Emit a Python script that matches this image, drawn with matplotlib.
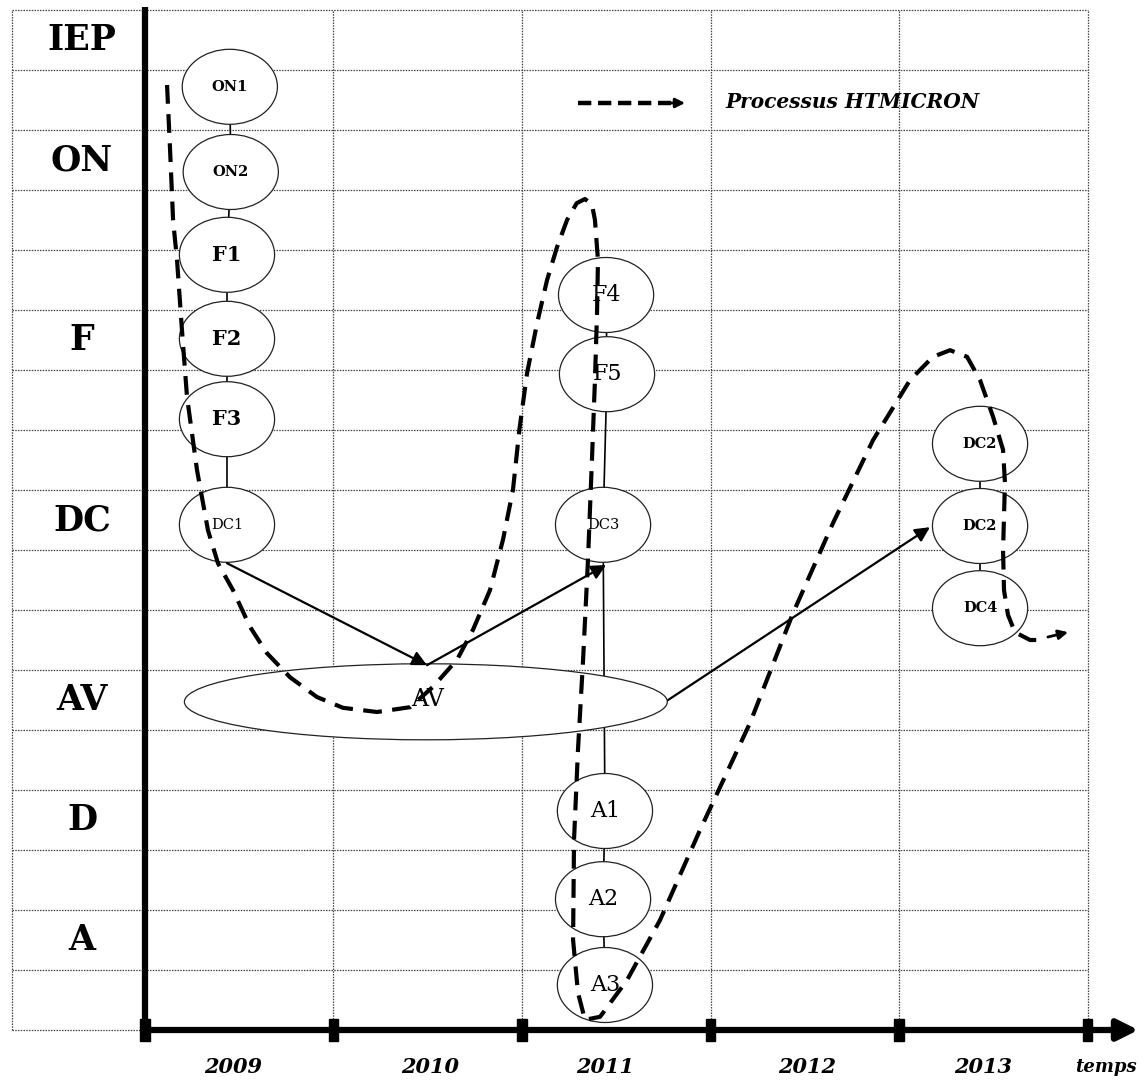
# coding:utf-8
import numpy as np
import matplotlib.pyplot as plt
from matplotlib.patches import Ellipse, Rectangle

plt.rcParams['font.family'] = ['DejaVu Serif']

# niveaux (lignes) a gauche
levels = ['IEP', 'ON', 'F', 'DC', 'AV', 'D', 'A']
level_pos = [16.5, 14.5, 11.5, 8.5, 5.5, 3.5, 1.5]

# annees sous l'axe du temps
years = ['2009', '2010', '2011', '2012', '2013']
year_pos = [2008.97, 2010.01, 2010.94, 2012.01, 2012.945]

# activites (ellipses)
act_names = ['ON1', 'ON2', 'F1', 'F2', 'F3', 'DC1',
             'F4', 'F5', 'DC3', 'A1', 'A2', 'A3',
             'DC2', 'DC2', 'DC4']
act_x = [2008.95, 2008.955, 2008.935, 2008.935, 2008.935, 2008.935,
         2010.946, 2010.951, 2010.93, 2010.94, 2010.93, 2010.94,
         2012.93, 2012.93, 2012.93]
act_y = [15.72, 14.30, 12.92, 11.52, 10.18, 8.42,
         12.25, 10.93, 8.42, 3.65, 2.18, 0.75,
         9.77, 8.40, 7.03]
chains = [[0, 1, 2, 3, 4, 5], [6, 7, 8, 9, 10, 11], [12, 13, 14]]

# grande ellipse AV
av_x, av_y = 2009.99, 5.47

# fleches pleines
flow_x0 = [2008.935, 2009.996, 2011.275]
flow_y0 = [7.78, 6.08, 5.50]
flow_x1 = [2009.996, 2010.946, 2012.664]
flow_y1 = [6.08, 7.75, 8.38]

# processus HTMICRON (trace en tirets)
proc_x = [2008.617, 2008.633, 2008.649, 2008.670, 2008.696, 2008.723, 2008.776,
          2008.834, 2008.887, 2008.967, 2009.057, 2009.147, 2009.269, 2009.412,
          2009.550, 2009.731, 2009.906, 2010.028, 2010.155, 2010.240, 2010.330,
          2010.399, 2010.452, 2010.486, 2010.527, 2010.580, 2010.633, 2010.686,
          2010.739, 2010.790, 2010.834, 2010.871, 2010.887, 2010.903, 2010.898,
          2010.887, 2010.871, 2010.850, 2010.824, 2010.797, 2010.776, 2010.771,
          2010.797, 2010.834, 2010.914, 2011.057, 2011.232, 2011.444, 2011.710,
          2011.938, 2012.150, 2012.362, 2012.558, 2012.680, 2012.771, 2012.861,
          2012.930, 2012.999, 2013.052, 2013.062, 2013.052, 2013.057, 2013.078,
          2013.115, 2013.195, 2013.248]
proc_y = [15.75, 14.67, 13.50, 12.83, 11.67, 10.55, 9.33,
          8.33, 7.78, 7.33, 6.72, 6.28, 5.88, 5.55,
          5.37, 5.30, 5.38, 5.72, 6.17, 6.67, 7.33,
          8.17, 9.00, 10.00, 10.95, 11.78, 12.50, 13.05,
          13.50, 13.78, 13.85, 13.76, 13.50, 12.83, 11.95,
          10.83, 9.50, 7.83, 6.17, 4.67, 3.17, 1.50,
          0.62, 0.17, 0.22, 0.83, 1.83, 3.33, 5.12,
          6.95, 8.45, 9.83, 10.83, 11.22, 11.33, 11.22,
          10.83, 10.22, 9.67, 9.12, 8.00, 7.33, 6.92,
          6.63, 6.50, 6.50]

bold_names = ['ON1', 'ON2', 'F1', 'F2', 'F3', 'DC2', 'DC4']

fig = plt.figure(figsize=(11.46, 10.82), dpi=100)
ax = fig.add_axes([0, 0, 1, 1])
ax.set_xlim(2007.7308, 2013.8103)
ax.set_ylim(-0.8667, 17.1667)
ax.axis('off')

x_left = 2007.794
x_right = 2013.5
dot = (0, (1.2, 1.0))

# grille pointillee
for y in range(18):
    ax.plot([x_left, x_right], [y, y], color='#444444', lw=0.9, ls=dot, zorder=0)
for x in [x_left, 2009.5, 2010.5, 2011.5, 2012.5, 2013.5]:
    ax.plot([x, x], [0, 17], color='#444444', lw=0.9, ls=dot, zorder=0)

# axes
ax.plot([2008.5, 2008.5], [0, 17.05], color='k', lw=4.5, solid_capstyle='butt', zorder=7)
ax.annotate('', xy=(2013.77, 0), xytext=(2008.5, 0),
            arrowprops=dict(arrowstyle='-|>,head_length=0.9,head_width=0.45',
                            lw=4.5, color='k', mutation_scale=14,
                            shrinkA=0, shrinkB=0), zorder=7)
for x in np.arange(2008.5, 2014.0, 1.0):
    ax.add_patch(Rectangle((x - 0.024, -0.18), 0.048, 0.36, color='k', zorder=8))

# etiquettes des niveaux
for lab, y in zip(levels, level_pos):
    ax.text(2008.166, y, lab, ha='center', va='center', fontsize=25,
            fontweight='bold')

# etiquettes des annees
for lab, x in zip(years, year_pos):
    ax.text(x, -0.62, lab, ha='center', va='center', fontsize=15,
            fontweight='bold', fontstyle='italic')
ax.text(2013.598, -0.62, 'temps', ha='center', va='center', fontsize=13,
        fontweight='bold', fontstyle='italic')

# liaisons verticales
for ch in chains:
    ax.plot([act_x[i] for i in ch], [act_y[i] for i in ch], color='k', lw=1.2, zorder=1)

# ellipses
for name, x, y in zip(act_names, act_x, act_y):
    ax.add_patch(Ellipse((x, y), 0.505, 1.25, facecolor='white',
                         edgecolor='#222222', lw=0.9, zorder=2))
    if name in bold_names:
        w = 'bold'
    else:
        w = 'normal'
    if name.startswith('F') or name.startswith('A'):
        fs = 16 if w == 'normal' else 15
    else:
        fs = 10.5
    ax.text(x, y, name, ha='center', va='center', fontsize=fs, fontweight=w, zorder=5)

ax.add_patch(Ellipse((av_x, av_y), 2.562, 1.267, facecolor='white',
                     edgecolor='#222222', lw=0.9, zorder=2))
ax.text(av_x + 0.01, av_y + 0.03, 'AV', ha='center', va='center', fontsize=17, zorder=5)

# fleches pleines
for x0, y0, x1, y1 in zip(flow_x0, flow_y0, flow_x1, flow_y1):
    ax.annotate('', xy=(x1, y1), xytext=(x0, y0),
                arrowprops=dict(arrowstyle='-|>', lw=1.6, color='k',
                                mutation_scale=22, shrinkA=0, shrinkB=0), zorder=4)

# processus HTMICRON
ax.plot(proc_x, proc_y, color='k', lw=3.0, ls=(0, (4.5, 2.5)), zorder=6)
ax.annotate('', xy=(2013.397, 6.63), xytext=(2013.29, 6.55),
            arrowprops=dict(arrowstyle='-|>', lw=2.0, color='k',
                            mutation_scale=14, shrinkA=0, shrinkB=0), zorder=6)

# legende
ax.plot([2010.797, 2011.29], [15.45, 15.45], color='k', lw=3.2, ls=(0, (3, 1.5)), zorder=6)
ax.annotate('', xy=(2011.365, 15.45), xytext=(2011.27, 15.45),
            arrowprops=dict(arrowstyle='-|>', lw=2.0, color='k',
                            mutation_scale=14, shrinkA=0, shrinkB=0), zorder=6)
ax.text(2011.577, 15.47, 'Processus HTMICRON', ha='left', va='center', fontsize=14.5,
        fontweight='bold', fontstyle='italic')

plt.savefig('out.png', dpi=100)
